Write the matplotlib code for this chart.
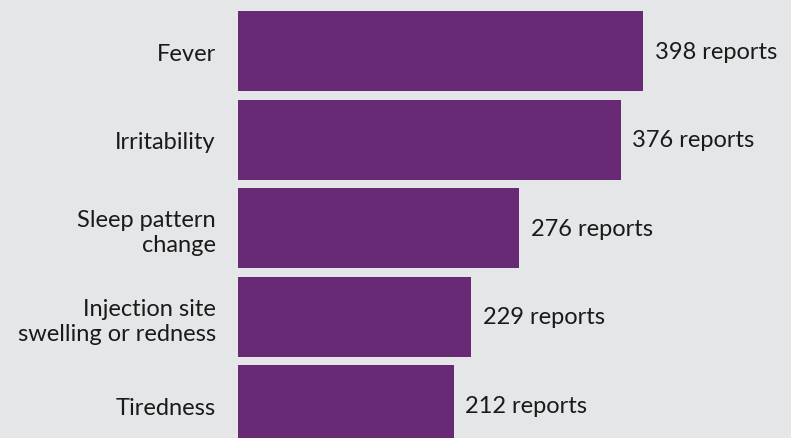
import matplotlib.pyplot as plt

categories = ["Fever", "Irritability", "Sleep pattern\nchange",
              "Injection site\nswelling or redness", "Tiredness"]
reports = [398, 376, 276, 229, 212]

BG = "#e5e6e8"
PURPLE = "#682a74"
TEXT = "#1a1a1a"

plt.rcParams['font.family'] = ['Lato', 'DejaVu Sans']

fig = plt.figure(figsize=(7.91, 4.39), dpi=100, facecolor=BG)
ax = fig.add_axes([238 / 791, 0, 1 - 238 / 791, 1], facecolor=BG)

ypos = list(range(len(categories)))
ax.barh(ypos, reports, height=0.904, color=PURPLE)

for y, v in zip(ypos, reports):
    ax.text(v + 11.5, y, f"{v} reports", va="center", ha="left",
            fontsize=17, color=TEXT)

ax.set_xlim(0, 553 / 1.0176)
ax.set_ylim(4.37, -0.59)
ax.set_yticks(ypos)
ax.set_yticklabels(categories, fontsize=17, color=TEXT, ha="right",
                   linespacing=1.25)
ax.tick_params(axis="y", length=0, pad=16)
ax.set_xticks([])
for s in ax.spines.values():
    s.set_visible(False)

fig.savefig("out.png", dpi=100, facecolor=BG)
